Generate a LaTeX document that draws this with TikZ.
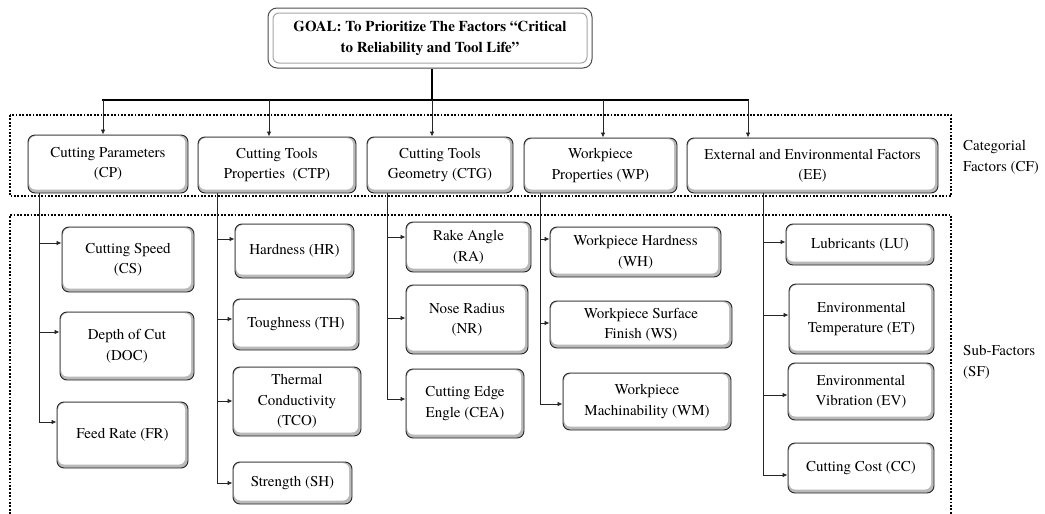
\documentclass[tikz,border=0pt]{standalone}
\usepackage{fontspec}
\setmainfont{TeX Gyre Termes}
\usetikzlibrary{arrows.meta,calc}
\newcommand\fs{\fontsize{15}{20.5}\selectfont}
\tikzset{
  bx/.style={draw=black!85, line width=0.9pt, rounded corners=7pt, fill=gray!55,
    inner sep=0pt, align=center, font=\fs,
    path picture={\fill[white, rounded corners=6pt]
      ([shift={(1.2pt,-1.2pt)}]path picture bounding box.north west) rectangle
      ([shift={(-3pt,3.5pt)}]path picture bounding box.south east);}},
  goalbox/.style={draw=black!70, line width=1pt, rounded corners=9pt, fill=white,
    inner sep=0pt, align=center, font=\fontsize{15}{21}\selectfont\bfseries},
  dots/.style={line width=2.2pt, dash pattern=on 1.8pt off 1.6pt},
  arr/.style={line width=0.8pt, black!85, -{Latex[length=5pt,width=4.5pt]}},
  stem/.style={line width=0.8pt, black!85},
  lbl/.style={anchor=west, align=left, font=\fs, inner sep=0pt},
}
\begin{document}
\begin{tikzpicture}[x=1pt,y=-1pt]
\useasboundingbox (0,0) rectangle (1045,514);
% dotted frames
\draw[dots] (10,115) rectangle (951,196);
\draw[dots] (10,514) -- (10,215) -- (951,215) -- (951,514);
% labels
\node[lbl] (cflab) at (963,157) {Categorial\\Factors (CF)};
\node[lbl] (sflab) at (963,362) {Sub-Factors\\(SF)};
% goal
\node[goalbox, minimum width=324pt, minimum height=60pt] (goal) at (430,38)
  {GOAL: To Prioritize The Factors “Critical\\to Reliability and Tool Life”};
\draw[gray!70, line width=1pt, rounded corners=6pt] (273,13) rectangle (587,63);
% categories
\node[bx, minimum width=160pt, minimum height=58pt] (CP) at (108,164) {Cutting Parameters\\(CP)};
\node[bx, minimum width=158pt, minimum height=56pt] (CTP) at (277,165) {Cutting Tools\\Properties~~(CTP)};
\node[bx, minimum width=146pt, minimum height=56pt] (CTG) at (440,165) {Cutting Tools\\Geometry (CTG)};
\node[bx, minimum width=153pt, minimum height=55pt] (WP) at (600.5,165.5) {Workpiece\\Properties (WP)};
\node[bx, minimum width=251pt, minimum height=55pt] (EE) at (812.5,165.5) {External and Environmental Factors\\(EE)};
% goal connectors
\coordinate (barL) at (103,100);
\coordinate (barR) at (748,100);
\draw[line width=2pt] (goal.south -| 432,0) -- (432,100);
\draw[line width=2.6pt] ([xshift=-1pt]barL) -- ([xshift=1pt]barR);
\draw[arr] (barL) -- (CP.north -| barL);
\draw[arr] (269,100) -- (CTP.north -| 269,0);
\draw[arr] (432,100) -- (CTG.north -| 432,0);
\draw[arr] (603,100) -- (WP.north -| 603,0);
\draw[arr] (barR) -- (EE.north -| barR);
% sub-factors: CP
\node[bx, minimum width=132pt, minimum height=65pt] (CS) at (128,259.5) {Cutting Speed\\(CS)};
\node[bx, minimum width=134pt, minimum height=68pt] (DOC) at (127,346) {Depth of Cut\\(DOC)};
\node[bx, minimum width=131pt, minimum height=66pt] (FR) at (122.5,435) {Feed Rate (FR)};
% CTP
\node[bx, minimum width=119pt, minimum height=54pt] (HR) at (294.5,251) {Hardness (HR)};
\node[bx, minimum width=126pt, minimum height=51pt] (TH) at (296,324.5) {Toughness (TH)};
\node[bx, minimum width=128pt, minimum height=69pt] (TCO) at (297,401.5) {Thermal\\Conductivity\\(TCO)};
\node[bx, minimum width=119pt, minimum height=42pt] (SH) at (292.5,483) {Strength (SH)};
% CTG
\node[bx, minimum width=125pt, minimum height=50pt] (RA) at (468.5,247) {Rake Angle\\(RA)};
\node[bx, minimum width=122pt, minimum height=69pt] (NR) at (467,319.5) {Nose Radius\\(NR)};
\node[bx, minimum width=118pt, minimum height=69pt] (CEA) at (465,403.5) {Cutting Edge\\Engle (CEA)};
% WP
\node[bx, minimum width=171pt, minimum height=50pt] (WH) at (635.5,252) {Workpiece Hardness\\(WH)};
\node[bx, minimum width=182pt, minimum height=47pt] (WS) at (641,324.5) {Workpiece Surface\\Finish (WS)};
\node[bx, minimum width=168pt, minimum height=57pt] (WM) at (647,401.5) {Workpiece\\Machinability (WM)};
% EE
\node[bx, minimum width=148pt, minimum height=41pt] (LU) at (860,244.5) {Lubricants (LU)};
\node[bx, minimum width=145pt, minimum height=70pt] (ET) at (861.5,319) {Environmental\\Temperature (ET)};
\node[bx, minimum width=146pt, minimum height=57pt] (EV) at (861,391.5) {Environmental\\Vibration (EV)};
\node[bx, minimum width=146pt, minimum height=50pt] (CC) at (861,468) {Cutting Cost (CC)};
% stems
\draw[stem] (CP.south -| 39,0) -- (39,422);
\draw[stem] (CTP.south -| 217,0) -- (217,483);
\draw[stem] (CTG.south -| 387,0) -- (387,399);
\draw[stem] (WP.south -| 540,0) -- (540,404);
\draw[stem] (EE.south -| 763,0) -- (763,475);
% branches
\draw[arr] (39,243) -- (CS.west |- 0,243);
\draw[arr] (39,332) -- (DOC.west |- 0,332);
\draw[arr] (39,422) -- (FR.west |- 0,422);
\draw[arr] (217,239) -- (HR.west |- 0,239);
\draw[arr] (217,319) -- (TH.west |- 0,319);
\draw[arr] (217,401) -- (TCO.west |- 0,401);
\draw[arr] (217,483) -- (SH.west |- 0,483);
\draw[arr] (387,237) -- (RA.west |- 0,237);
\draw[arr] (387,318) -- (NR.west |- 0,318);
\draw[arr] (387,399) -- (CEA.west |- 0,399);
\draw[arr] (540,239) -- (WH.west |- 0,239);
\draw[arr] (540,323) -- (WS.west |- 0,323);
\draw[arr] (540,404) -- (WM.west |- 0,404);
\draw[arr] (763,242) -- (LU.west |- 0,242);
\draw[arr] (763,315) -- (ET.west |- 0,315);
\draw[arr] (763,395) -- (EV.west |- 0,395);
\draw[arr] (763,475) -- (CC.west |- 0,475);
\end{tikzpicture}
\end{document}
